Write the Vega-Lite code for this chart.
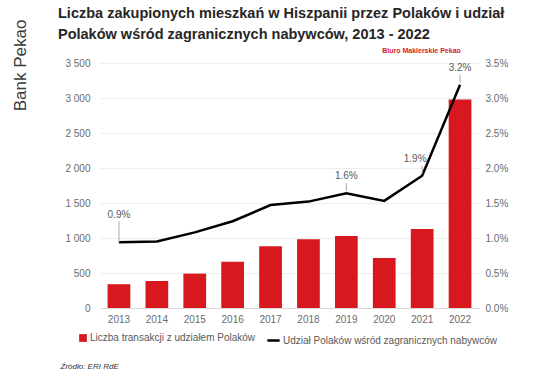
{
  "$schema": "https://vega.github.io/schema/vega-lite/v6.json",
  "width": 379,
  "height": 245,
  "autosize": {"type": "none"},
  "padding": {"left": 100, "top": 63, "right": 58, "bottom": 74},
  "background": "white",
  "title": {
    "text": ["Liczba zakupionych mieszkań w Hiszpanii przez Polaków i udział", "Polaków wśród zagranicznych nabywców, 2013 - 2022"],
    "anchor": "start",
    "frame": "group",
    "font": "Liberation Sans",
    "fontSize": 14.5,
    "fontWeight": "bold",
    "color": "#262626",
    "lineHeight": 21,
    "dx": -42,
    "dy": 41,
    "offset": 18
  },
  "config": {
    "font": "Liberation Sans",
    "view": {"stroke": null},
    "axis": {"labelFont": "Liberation Sans", "labelColor": "#6b6b6b", "labelFontSize": 10, "titleFont": "Liberation Sans"},
    "legend": {"labelFont": "Liberation Sans", "labelColor": "#595959", "labelFontSize": 10, "labelLimit": 400}
  },
  "data": {
    "values": [
      {"year": "2013", "count": 340, "share": 0.0094, "label": "0.9%"},
      {"year": "2014", "count": 387, "share": 0.0095, "label": ""},
      {"year": "2015", "count": 491, "share": 0.0108, "label": ""},
      {"year": "2016", "count": 661, "share": 0.0124, "label": ""},
      {"year": "2017", "count": 882, "share": 0.0147, "label": ""},
      {"year": "2018", "count": 982, "share": 0.0152, "label": ""},
      {"year": "2019", "count": 1030, "share": 0.0164, "label": "1.6%"},
      {"year": "2020", "count": 713, "share": 0.0153, "label": ""},
      {"year": "2021", "count": 1129, "share": 0.0189, "label": "1.9%"},
      {"year": "2022", "count": 2979, "share": 0.0319, "label": "3.2%"}
    ]
  },
  "encoding": {
    "x": {
      "field": "year",
      "type": "ordinal",
      "scale": {"paddingInner": 0.4, "paddingOuter": 0.2},
      "axis": {
        "labelAngle": 0,
        "ticks": false,
        "domainColor": "#d9d9d9",
        "labelPadding": 6,
        "title": "Źródło: ERI RdE",
        "titleX": -40,
        "titleY": 58,
        "titleAlign": "left",
        "titleBaseline": "middle",
        "titleFontSize": 8,
        "titleFontStyle": "italic",
        "titleFontWeight": "normal",
        "titleColor": "#333333"
      }
    }
  },
  "layer": [
    {
      "mark": {"type": "bar", "color": "#d7191f"},
      "encoding": {
        "y": {
          "field": "count",
          "type": "quantitative",
          "scale": {"domain": [0, 3500]},
          "axis": {
            "values": [0, 500, 1000, 1500, 2000, 2500, 3000, 3500],
            "labelExpr": "replace(format(datum.value, ',d'), ',', ' ')",
            "ticks": false,
            "domain": false,
            "gridColor": "#eeeeee",
            "labelPadding": 10,
            "title": "Bank Pekao",
            "titleFontSize": 17,
            "titleFontWeight": "normal",
            "titleColor": "#3a3a3a",
            "titleX": -80,
            "titleY": 2,
            "titleAlign": "center",
            "titleBaseline": "middle",
            "titleAngle": -90
          }
        },
        "fill": {
          "datum": "Liczba transakcji z udziałem Polaków",
          "type": "nominal",
          "scale": {"range": ["#d7191f"]},
          "legend": {"title": null, "orient": "none", "legendX": -22, "legendY": 270, "symbolType": "square", "symbolSize": 60, "symbolStrokeWidth": 0, "labelOffset": 2}
        }
      }
    },
    {
      "encoding": {
        "y": {
          "field": "share",
          "type": "quantitative",
          "scale": {"domain": [0, 0.035], "nice": false},
          "axis": {
            "orient": "right",
            "values": [0, 0.005, 0.01, 0.015, 0.02, 0.025, 0.03, 0.035],
            "format": ".1%",
            "ticks": false,
            "domain": false,
            "grid": false,
            "labelOverlap": false,
            "labelPadding": 6,
            "title": "Biuro Maklerskie Pekao",
            "titleAngle": 0,
            "titleFontSize": 7,
            "titleFontWeight": "bold",
            "titleColor": "#d7191f",
            "titleX": -58,
            "titleY": -13,
            "titleAlign": "center",
            "titleBaseline": "middle"
          }
        }
      },
      "layer": [
        {
          "mark": {"type": "line", "strokeWidth": 2.5},
          "encoding": {
            "stroke": {
              "datum": "Udział Polaków wśród zagranicznych nabywców",
              "type": "nominal",
              "scale": {"range": ["#000000"]},
              "legend": {"title": null, "orient": "none", "legendX": 166, "legendY": 270, "symbolType": "stroke", "symbolStrokeWidth": 2.5, "symbolSize": 150, "labelOffset": 2}
            }
          }
        },
        {
          "transform": [{"filter": "datum.year == '2013'"}],
          "mark": {"type": "rule", "color": "#a6a6a6", "strokeWidth": 1, "y2Offset": -21},
          "encoding": {
            "y2": {"field": "share"}
          }
        },
        {
          "transform": [{"filter": "datum.year == '2013'"}],
          "mark": {"type": "text", "dy": -27, "fontSize": 10, "color": "#595959", "font": "Liberation Sans"},
          "encoding": {
            "text": {"field": "label"}
          }
        },
        {
          "transform": [{"filter": "datum.label != '' && datum.year != '2013'"}],
          "mark": {"type": "rule", "color": "#a6a6a6", "strokeWidth": 1, "yOffset": -2, "y2Offset": -10},
          "encoding": {
            "y2": {"field": "share"}
          }
        },
        {
          "transform": [{"filter": "datum.year == '2019' || datum.year == '2022'"}],
          "mark": {"type": "text", "dy": -17, "fontSize": 10, "color": "#595959", "font": "Liberation Sans"},
          "encoding": {
            "text": {"field": "label"}
          }
        },
        {
          "transform": [{"filter": "datum.year == '2021'"}],
          "mark": {"type": "text", "dy": -17, "dx": -7, "fontSize": 10, "color": "#595959", "font": "Liberation Sans"},
          "encoding": {
            "text": {"field": "label"}
          }
        }
      ]
    }
  ],
  "resolve": {"scale": {"y": "independent"}}
}
